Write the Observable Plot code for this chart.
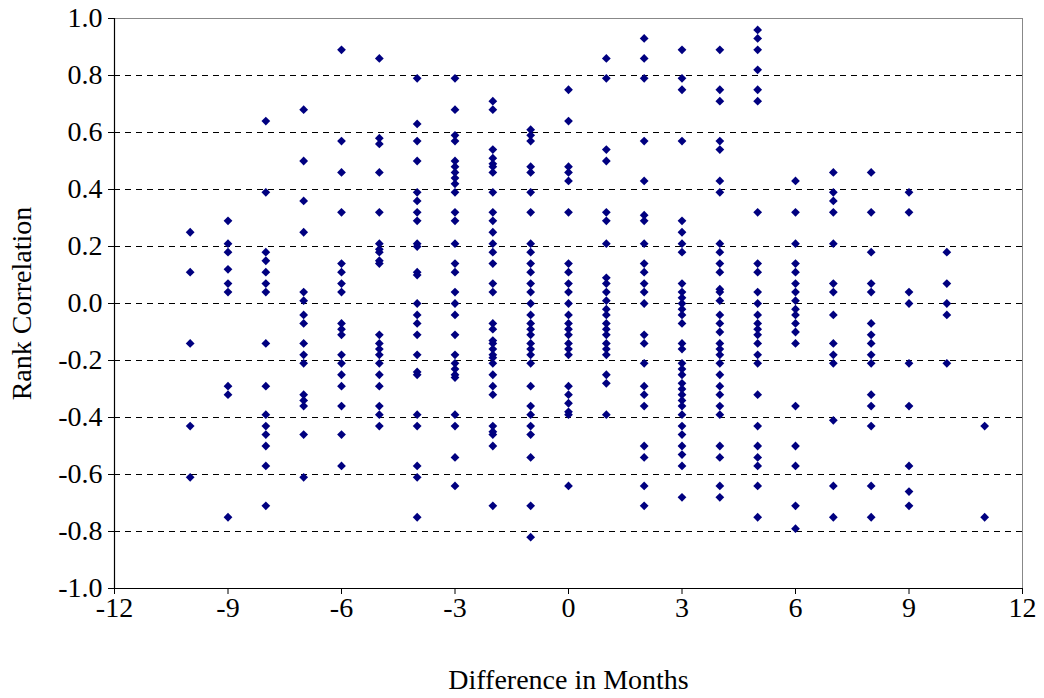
<!DOCTYPE html>
<html>
<head>
<meta charset="utf-8">
<script src="https://cdn.jsdelivr.net/npm/d3@7"></script>
<script src="https://cdn.jsdelivr.net/npm/@observablehq/plot@0.6"></script>
<style>
  html, body { margin: 0; padding: 0; background: #fff; }
  #chart svg { display: block; }
</style>
</head>
<body>
<div id="chart"></div>
<script>
// Rank correlation values per difference in months
const months = [-10, -9, -8, -7, -6, -5, -4, -3, -2, -1, 0, 1, 2, 3, 4, 5, 6, 7, 8, 9, 10, 11];
const r_m10 = [0.25, 0.11, -0.14, -0.43, -0.61];
const r_m9 = [0.29, 0.21, 0.18, 0.12, 0.07, 0.04, -0.29, -0.32, -0.75];
const r_m8 = [0.64, 0.39, 0.18, 0.15, 0.11, 0.07, 0.04, -0.14, -0.29, -0.39, -0.43, -0.46, -0.50, -0.57, -0.71];
const r_m7 = [0.68, 0.50, 0.36, 0.25, 0.04, 0.01, -0.04, -0.07, -0.14, -0.18, -0.21, -0.32, -0.34, -0.36, -0.46, -0.61];
const r_m6 = [0.89, 0.57, 0.46, 0.32, 0.14, 0.11, 0.07, 0.04, -0.07, -0.09, -0.11, -0.18, -0.21, -0.25, -0.29, -0.36, -0.46, -0.57];
const r_m5 = [0.86, 0.58, 0.56, 0.46, 0.32, 0.21, 0.19, 0.18, 0.15, 0.14, -0.11, -0.14, -0.16, -0.18, -0.21, -0.25, -0.29, -0.36, -0.39, -0.43];
const r_m4 = [0.79, 0.63, 0.57, 0.50, 0.39, 0.36, 0.32, 0.29, 0.21, 0.20, 0.11, 0.10, 0.00, -0.04, -0.07, -0.11, -0.18, -0.24, -0.25, -0.39, -0.43, -0.57, -0.61, -0.75];
const r_m3 = [0.79, 0.68, 0.59, 0.57, 0.50, 0.48, 0.46, 0.44, 0.42, 0.39, 0.32, 0.29, 0.21, 0.14, 0.11, 0.04, 0.00, -0.04, -0.11, -0.18, -0.21, -0.23, -0.25, -0.26, -0.39, -0.43, -0.54, -0.64];
const r_m2 = [0.71, 0.68, 0.54, 0.51, 0.49, 0.48, 0.46, 0.39, 0.32, 0.29, 0.25, 0.21, 0.18, 0.14, 0.07, 0.04, -0.07, -0.09, -0.13, -0.14, -0.16, -0.18, -0.19, -0.21, -0.25, -0.29, -0.32, -0.43, -0.45, -0.46, -0.50, -0.71];
const r_m1 = [0.61, 0.59, 0.57, 0.48, 0.46, 0.39, 0.32, 0.21, 0.18, 0.14, 0.11, 0.07, 0.04, 0.00, -0.04, -0.07, -0.09, -0.11, -0.14, -0.16, -0.18, -0.21, -0.29, -0.36, -0.39, -0.43, -0.46, -0.54, -0.71, -0.82];
const r_0 = [0.75, 0.64, 0.48, 0.46, 0.43, 0.32, 0.14, 0.11, 0.07, 0.04, 0.00, -0.04, -0.07, -0.09, -0.11, -0.14, -0.16, -0.18, -0.29, -0.32, -0.35, -0.38, -0.39, -0.64];
const r_p1 = [0.86, 0.79, 0.54, 0.50, 0.32, 0.29, 0.21, 0.09, 0.07, 0.04, 0.01, -0.02, -0.04, -0.07, -0.09, -0.11, -0.14, -0.16, -0.18, -0.25, -0.28, -0.39];
const r_p2 = [0.93, 0.86, 0.79, 0.57, 0.43, 0.31, 0.29, 0.21, 0.14, 0.11, 0.07, 0.04, 0.00, -0.11, -0.14, -0.21, -0.29, -0.32, -0.36, -0.50, -0.54, -0.64, -0.71];
const r_p3 = [0.89, 0.79, 0.75, 0.57, 0.29, 0.25, 0.21, 0.18, 0.07, 0.04, 0.02, 0.00, -0.02, -0.04, -0.07, -0.14, -0.16, -0.21, -0.23, -0.25, -0.28, -0.30, -0.32, -0.34, -0.36, -0.39, -0.43, -0.46, -0.50, -0.53, -0.57, -0.68];
const r_p4 = [0.89, 0.75, 0.71, 0.57, 0.54, 0.43, 0.39, 0.21, 0.18, 0.14, 0.11, 0.05, 0.04, 0.01, -0.04, -0.07, -0.10, -0.14, -0.16, -0.18, -0.21, -0.25, -0.29, -0.32, -0.36, -0.39, -0.50, -0.54, -0.64, -0.68];
const r_p5 = [0.96, 0.93, 0.89, 0.82, 0.75, 0.71, 0.32, 0.14, 0.11, 0.04, 0.00, -0.04, -0.07, -0.09, -0.11, -0.14, -0.18, -0.21, -0.32, -0.43, -0.50, -0.54, -0.57, -0.64, -0.75];
const r_p6 = [0.43, 0.32, 0.21, 0.14, 0.11, 0.07, 0.04, 0.01, -0.02, -0.04, -0.07, -0.10, -0.14, -0.36, -0.50, -0.57, -0.71, -0.79];
const r_p7 = [0.46, 0.39, 0.36, 0.32, 0.21, 0.07, 0.04, -0.04, -0.14, -0.18, -0.21, -0.41, -0.64, -0.75];
const r_p8 = [0.46, 0.32, 0.18, 0.07, 0.04, -0.07, -0.11, -0.14, -0.18, -0.21, -0.32, -0.36, -0.43, -0.64, -0.75];
const r_p9 = [0.39, 0.32, 0.04, 0.00, -0.21, -0.36, -0.57, -0.66, -0.71];
const r_p10 = [0.18, 0.07, 0.00, -0.04, -0.21];
const r_p11 = [-0.43, -0.75];

const columns = [r_m10, r_m9, r_m8, r_m7, r_m6, r_m5, r_m4, r_m3, r_m2, r_m1, r_0,
                 r_p1, r_p2, r_p3, r_p4, r_p5, r_p6, r_p7, r_p8, r_p9, r_p10, r_p11];

const xTicks = [-12, -9, -6, -3, 0, 3, 6, 9, 12];
const yTicks = [-1.0, -0.8, -0.6, -0.4, -0.2, 0.0, 0.2, 0.4, 0.6, 0.8, 1.0];
const gridValues = [-0.8, -0.6, -0.4, -0.2, 0.0, 0.2, 0.4, 0.6, 0.8];
const xTitle = "Difference in Months";
const yTitle = "Rank Correlation";

const points = months.flatMap((m, i) => columns[i].map(v => ({month: m, r: v})));

const font = "Liberation Serif, Times New Roman, serif";
const fs = 28;

const chart = Plot.plot({
  width: 1044,
  height: 698,
  marginLeft: 114,
  marginRight: 22,
  marginTop: 18,
  marginBottom: 110,
  style: {fontFamily: font, fontSize: fs + "px", background: "#fff", color: "#000"},
  x: {domain: [-12, 12]},
  y: {domain: [-1, 1]},
  marks: [
    Plot.frame({stroke: "#888", strokeWidth: 1}),
    Plot.gridY(gridValues, {stroke: "#000", strokeOpacity: 1, strokeWidth: 1, strokeDasharray: "6,5"}),
    Plot.axisX({ticks: xTicks, tickSize: 6, tickPadding: 3, label: null,
      tickFormat: d => String(d), fontSize: fs, fontFamily: font}),
    Plot.axisY({ticks: yTicks, tickSize: 6, tickPadding: 6, label: null,
      tickFormat: d => d.toFixed(1), fontSize: fs, fontFamily: font}),
    Plot.ruleX([-12], {stroke: "#000", strokeWidth: 1.2}),
    Plot.ruleY([-1], {stroke: "#000", strokeWidth: 1.2}),
    Plot.dot(points, {x: "month", y: "r", symbol: "square", r: 3.5, rotate: 45,
      fill: "#000080", stroke: "none"}),
    Plot.text([xTitle], {frameAnchor: "bottom", lineAnchor: "bottom", textAnchor: "middle", dy: 100,
      fontSize: fs, fontFamily: font, fill: "#000"}),
    Plot.text([yTitle], {frameAnchor: "left", textAnchor: "middle", lineAnchor: "middle", dx: -92, rotate: -90,
      fontSize: fs, fontFamily: font, fill: "#000"})
  ]
});
document.getElementById("chart").append(chart);
</script>
</body>
</html>
